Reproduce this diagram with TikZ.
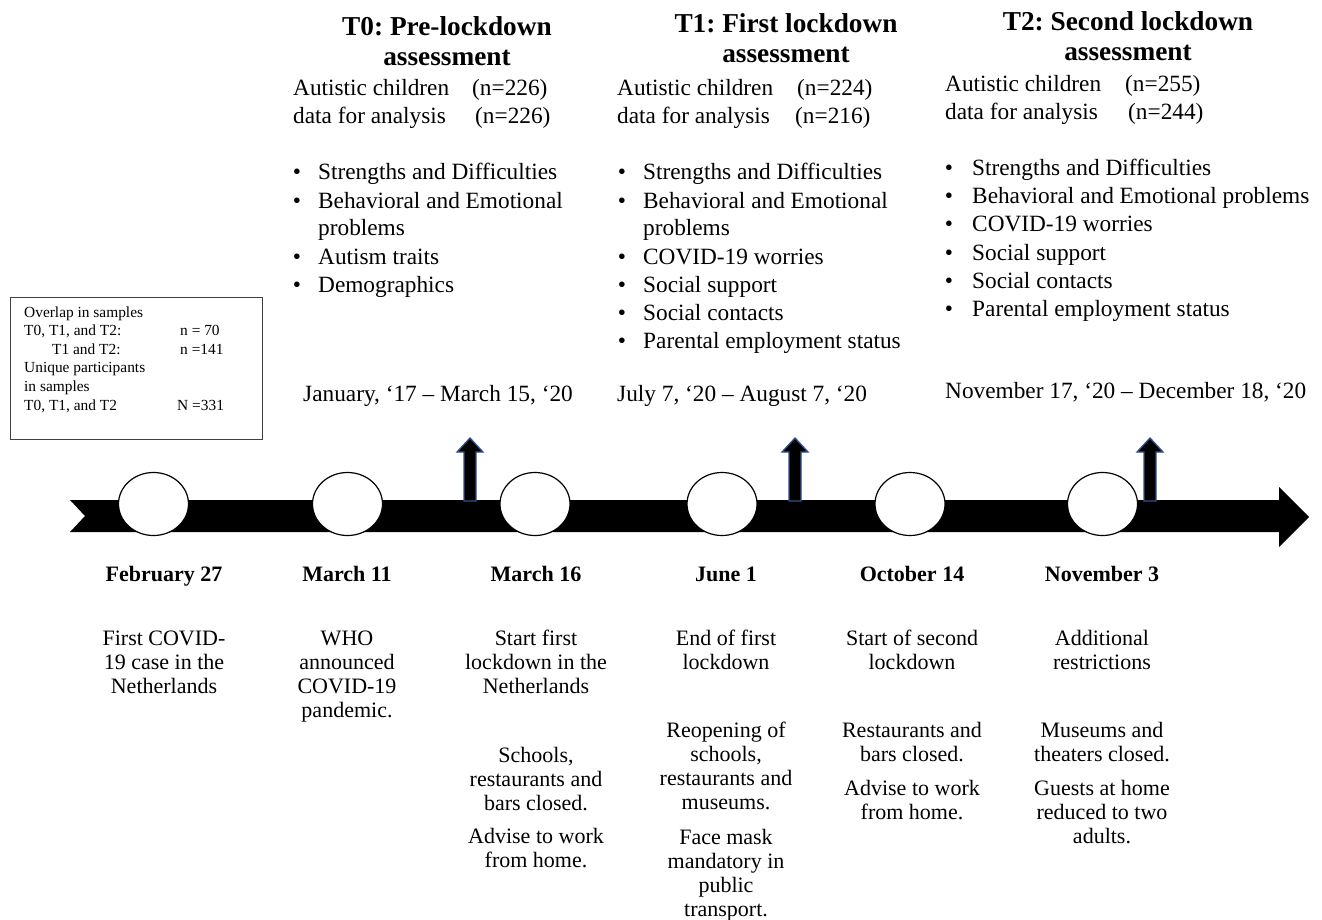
\documentclass[tikz,border=0pt]{standalone}
\usepackage{fontspec}
\setmainfont{Liberation Serif}
\usetikzlibrary{shapes.geometric}
\definecolor{arrowblue}{HTML}{2F528F}
\frenchspacing
\begin{document}
\begin{tikzpicture}[x=1pt,y=-1pt,
  hdr/.style={font=\fontsize{27.3}{30}\selectfont\bfseries, inner sep=0pt, anchor=base},
  txt/.style={font=\fontsize{23.3}{28}\selectfont, inner sep=0pt, anchor=base west},
  bul/.style={font=\fontsize{23.3}{28}\selectfont, inner sep=0pt, anchor=base},
  sm/.style={font=\fontsize{15.4}{18.6}\selectfont, inner sep=0pt, anchor=base west},
  evh/.style={font=\fontsize{22}{24}\selectfont\bfseries, inner sep=0pt, anchor=base},
  evt/.style={font=\fontsize{22}{24}\selectfont, inner sep=0pt, anchor=north, align=center},
  marker/.style={ellipse, draw=black, fill=white, line width=1.2pt, minimum width=70pt, minimum height=63pt, inner sep=0pt},
  uparrow/.style={fill=black, draw=arrowblue, line width=1.3pt, line join=miter},
  infobox/.style={draw=black!75, line width=1pt, minimum width=252pt, minimum height=142pt, inner sep=0pt, anchor=north west}
]
\useasboundingbox (0,0) rectangle (1322,920);

% ---------------- timeline bar ----------------
\fill[black] (70,500) -- (1279,500) -- (1279,487) -- (1309,517) -- (1279,547) -- (1279,532) -- (70,532) -- (85,516) -- cycle;

% small up arrows
\foreach \ax in {470,795,1150}{
  \filldraw[uparrow] (\ax-6,501) -- (\ax-6,452) -- (\ax-13,452) -- (\ax,438) -- (\ax+13,452) -- (\ax+6,452) -- (\ax+6,501) -- cycle;
}

% markers
\node[marker] (m1) at (153.5,504) {};
\node[marker] (m2) at (347.5,504) {};
\node[marker] (m3) at (535,504) {};
\node[marker] (m4) at (722,504) {};
\node[marker] (m5) at (910,504) {};
\node[marker] (m6) at (1102.5,504) {};

% ---------------- info box ----------------
\node[infobox] (box) at (10,297) {};
\node[sm] (b1) at (24,317) {Overlap in samples};
\node[sm] (b2) at (24,335.6) {T0, T1, and T2:};
\node[sm] (b2n) at (180,335.6) {n = 70};
\node[sm] (b3) at (52,354.2) {T1 and T2:};
\node[sm] (b3n) at (180,354.2) {n =141};
\node[sm] (b4) at (24,372.8) {Unique participants};
\node[sm] (b5) at (24,391.4) {in samples};
\node[sm] (b6) at (24,410) {T0, T1, and T2};
\node[sm] (b6n) at (177,410) {N =331};

% ---------------- T0 ----------------
\node[hdr] (h0a) at (447,36) {T0: Pre-lockdown};
\node[hdr] (h0b) at (447,66) {assessment};
\node[txt] (a0) at (293,96) {Autistic children};
\node[txt] (a0n) at (472,96) {(n=226)};
\node[txt] (d0) at (293,124) {data for analysis};
\node[txt] (d0n) at (475,124) {(n=226)};
\node[bul] (p0a) at (297,180) {•};
\node[txt] (t0a) at (318,180) {Strengths and Difficulties};
\node[bul] (p0b) at (297,208) {•};
\node[txt] (t0b) at (318,208) {Behavioral and Emotional};
\node[txt] (t0b2) at (318,236) {problems};
\node[bul] (p0c) at (297,264) {•};
\node[txt] (t0c) at (318,264) {Autism traits};
\node[bul] (p0d) at (297,292) {•};
\node[txt] (t0d) at (318,292) {Demographics};
\node[txt] (date0) at (303,401) {January, ‘17 – March 15, ‘20};

% ---------------- T1 ----------------
\node[hdr] (h1a) at (786,33) {T1: First lockdown};
\node[hdr] (h1b) at (786,63) {assessment};
\node[txt] (a1) at (617,96) {Autistic children};
\node[txt] (a1n) at (797,96) {(n=224)};
\node[txt] (d1) at (617,124) {data for analysis};
\node[txt] (d1n) at (795,124) {(n=216)};
\node[bul] (p1a) at (622,180) {•};
\node[txt] (t1a) at (643,180) {Strengths and Difficulties};
\node[bul] (p1b) at (622,208) {•};
\node[txt] (t1b) at (643,208) {Behavioral and Emotional};
\node[txt] (t1b2) at (643,236) {problems};
\node[bul] (p1c) at (622,264) {•};
\node[txt] (t1c) at (643,264) {COVID-19 worries};
\node[bul] (p1d) at (622,292) {•};
\node[txt] (t1d) at (643,292) {Social support};
\node[bul] (p1e) at (622,320) {•};
\node[txt] (t1e) at (643,320) {Social contacts};
\node[bul] (p1f) at (622,348) {•};
\node[txt] (t1f) at (643,348) {Parental employment status};
\node[txt] (date1) at (617,401) {July 7, ‘20 – August 7, ‘20};

% ---------------- T2 ----------------
\node[hdr] (h2a) at (1128,31) {T2: Second lockdown};
\node[hdr] (h2b) at (1128,61) {assessment};
\node[txt] (a2) at (945,92) {Autistic children};
\node[txt] (a2n) at (1125,92) {(n=255)};
\node[txt] (d2) at (945,120) {data for analysis};
\node[txt] (d2n) at (1128,120) {(n=244)};
\node[bul] (p2a) at (949,176) {•};
\node[txt] (t2a) at (972,176) {Strengths and Difficulties};
\node[bul] (p2b) at (949,204) {•};
\node[txt] (t2b) at (972,204) {Behavioral and Emotional problems};
\node[bul] (p2c) at (949,232) {•};
\node[txt] (t2c) at (972,232) {COVID-19 worries};
\node[bul] (p2d) at (949,260) {•};
\node[txt] (t2d) at (972,260) {Social support};
\node[bul] (p2e) at (949,288) {•};
\node[txt] (t2e) at (972,288) {Social contacts};
\node[bul] (p2f) at (949,316) {•};
\node[txt] (t2f) at (972,316) {Parental employment status};
\node[txt] (date2) at (945,398) {November 17, ‘20 – December 18, ‘20};

% ---------------- events ----------------
\node[evh] (e1) at (164,581) {February 27};
\node[evh] (e2) at (347,581) {March 11};
\node[evh] (e3) at (536,581) {March 16};
\node[evh] (e4) at (726,581) {June 1};
\node[evh] (e5) at (912,581) {October 14};
\node[evh] (e6) at (1102,581) {November 3};

\node[evt] (e1a) at (164,628) {\strut First COVID-\\19 case in the\\Netherlands};
\node[evt] (e2a) at (347,628) {\strut WHO\\announced\\COVID-19\\pandemic.};
\node[evt] (e3a) at (536,628) {\strut Start first\\lockdown in the\\Netherlands};
\node[evt] (e3b) at (536,745) {\strut Schools,\\restaurants and\\bars closed.};
\node[evt] (e3c) at (536,826) {\strut Advise to work\\from home.};
\node[evt] (e4a) at (726,628) {\strut End of first\\lockdown};
\node[evt] (e4b) at (726,720) {\strut Reopening of\\schools,\\restaurants and\\museums.};
\node[evt] (e4c) at (726,827) {\strut Face mask\\mandatory in\\public\\transport.};
\node[evt] (e5a) at (912,628) {\strut Start of second\\lockdown};
\node[evt] (e5b) at (912,720) {\strut Restaurants and\\bars closed.};
\node[evt] (e5c) at (912,778) {\strut Advise to work\\from home.};
\node[evt] (e6a) at (1102,628) {\strut Additional\\restrictions};
\node[evt] (e6b) at (1102,720) {\strut Museums and\\theaters closed.};
\node[evt] (e6c) at (1102,778) {\strut Guests at home\\reduced to two\\adults.};
\end{tikzpicture}
\end{document}
